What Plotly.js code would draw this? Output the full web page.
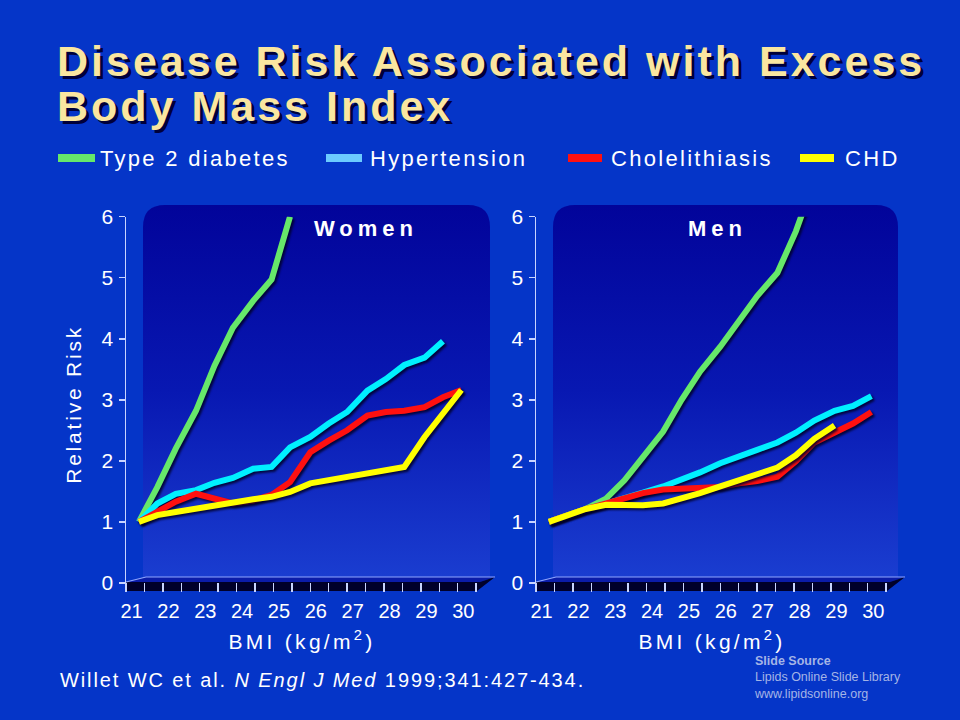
<!DOCTYPE html>
<html>
<head>
<meta charset="utf-8">
<script src="https://cdn.plot.ly/plotly-3.0.1.min.js"></script>
<style>
  html, body { margin: 0; padding: 0; background: #0535C8; }
  #chart { width: 960px; height: 720px; }
  .scatterlayer .js-line { filter: drop-shadow(2px 2px 1px rgba(0,0,40,0.85)); }
</style>
</head>
<body>
<div id="chart"></div>
<script>
// ---------------- DATA ----------------
const bmi = [21.2, 21.7, 22.2, 22.75, 23.25, 23.75, 24.3, 24.8, 25.3, 25.85, 26.35, 26.85, 27.4, 27.9, 28.4, 28.95, 29.45, 29.95];
const bmiTicks = [21, 22, 23, 24, 25, 26, 27, 28, 29, 30];
const riskTicks = [0, 1, 2, 3, 4, 5, 6];
const seriesNames = ['Type 2 diabetes', 'Hypertension', 'Cholelithiasis', 'CHD'];

// Women
const diabetesW = [1.0, 1.57, 2.20, 2.82, 3.56, 4.18, 4.62, 4.97, 6.0];
const hypertensionW = [1.0, 1.30, 1.46, 1.52, 1.64, 1.72, 1.87, 1.90, 2.22, 2.39, 2.61, 2.80, 3.15, 3.34, 3.57, 3.69, 3.96];
const cholelithiasisW = [1.0, 1.16, 1.33, 1.46, 1.38, 1.30, 1.35, 1.44, 1.65, 2.14, 2.33, 2.50, 2.74, 2.80, 2.82, 2.88, 3.04, 3.16];
const chdW = [1.0, 1.11, 1.16, 1.22, 1.27, 1.31, 1.37, 1.41, 1.49, 1.63, 1.68, 1.75, 1.79, 1.84, 1.90, 2.39, 2.77, 3.16];

// Men
const diabetesM = [1.0, 1.11, 1.21, 1.38, 1.68, 2.06, 2.48, 3.00, 3.46, 3.87, 4.28, 4.70, 5.08, 5.76, 6.6];
const hypertensionM = [1.0, 1.11, 1.21, 1.30, 1.40, 1.48, 1.58, 1.69, 1.81, 1.96, 2.08, 2.18, 2.30, 2.46, 2.66, 2.82, 2.90, 3.06];
const cholelithiasisM = [1.0, 1.11, 1.21, 1.30, 1.39, 1.47, 1.53, 1.54, 1.55, 1.57, 1.63, 1.67, 1.74, 1.99, 2.30, 2.47, 2.61, 2.80];
const chdM = [1.0, 1.11, 1.21, 1.28, 1.27, 1.27, 1.30, 1.38, 1.47, 1.58, 1.68, 1.79, 1.89, 2.09, 2.36, 2.58];

// ---------------- STYLE ----------------
const W = 960, H = 720;
const FONT = 'Liberation Sans, Arial, Helvetica, sans-serif';
const lineColors = ['#66E86A', '#00F0FF', '#FF1010', '#FFFF00'];
const legendColors = ['#66E86A', '#6CCBFF', '#FF1010', '#FFFF00'];
const BG = '#0535C8';
const px = x => x / W;
const py = y => 1 - y / H;
const sp = (t, s) => '<span style="letter-spacing:' + s + 'px">' + t + '</span>';

function mkTrace(y, color, xa, ya) {
  return {
    x: bmi.slice(0, y.length), y: y, type: 'scatter', mode: 'lines',
    xaxis: xa, yaxis: ya, showlegend: false, hoverinfo: 'skip',
    line: { color: color, width: 6, shape: 'linear' }
  };
}

const data = [
  mkTrace(diabetesW, lineColors[0], 'x', 'y'),
  mkTrace(hypertensionW, lineColors[1], 'x', 'y'),
  mkTrace(cholelithiasisW, lineColors[2], 'x', 'y'),
  mkTrace(chdW, lineColors[3], 'x', 'y'),
  mkTrace(diabetesM, lineColors[0], 'x2', 'y2'),
  mkTrace(hypertensionM, lineColors[1], 'x2', 'y2'),
  mkTrace(cholelithiasisM, lineColors[2], 'x2', 'y2'),
  mkTrace(chdM, lineColors[3], 'x2', 'y2')
];

const axisLine = '#C8D4FF';
function xAxis(domain, anchor) {
  return {
    domain: domain, anchor: anchor, range: [20.85, 30.4],
    tickmode: 'array', tickvals: bmiTicks, ticktext: bmiTicks.map(String),
    ticks: '', showgrid: false, zeroline: false, showline: false,
    tickfont: { family: FONT, size: 20, color: '#FFFFFF' },
    ticklabelstandoff: 5,
    minor: { tick0: 20.85, dtick: 0.5, ticks: 'inside', ticklen: 9, tickwidth: 1.5, tickcolor: axisLine, showgrid: false },
    title: { text: sp('BMI (kg/m<sup>2</sup>)', 3.3), font: { family: FONT, size: 21, color: '#FFFFFF' }, standoff: 13 },
    fixedrange: true
  };
}
function yAxis(anchor, withTitle) {
  const a = {
    domain: [py(592), py(216.7)], anchor: anchor, range: [-0.15, 6],
    tickmode: 'array', tickvals: riskTicks, ticktext: riskTicks.map(String),
    ticks: 'outside', ticklen: 6, tickwidth: 1.5, tickcolor: axisLine,
    showline: true, linecolor: axisLine, linewidth: 1.5,
    showgrid: false, zeroline: false,
    tickfont: { family: FONT, size: 21, color: '#FFFFFF' },
    ticklabelstandoff: 1,
    fixedrange: true
  };
  if (withTitle) a.title = { text: sp('Relative Risk', 2.8), font: { family: FONT, size: 21, color: '#FFFFFF' }, standoff: 14 };
  return a;
}

function panelImage(x0, y0, x1, y1) {
  const w = x1 - x0, h = y1 - y0, r = 22;
  const svg = '<svg xmlns="http://www.w3.org/2000/svg" width="' + w + '" height="' + h + '" viewBox="0 0 ' + w + ' ' + h + '">' +
    '<defs><linearGradient id="g" x1="0" y1="0" x2="0" y2="1">' +
    '<stop offset="0" stop-color="#02049A"/><stop offset="0.5" stop-color="#0818B2"/><stop offset="1" stop-color="#1A3DD0"/>' +
    '</linearGradient></defs>' +
    '<path d="M0,' + h + ' L0,' + r + ' Q0,0 ' + r + ',0 L' + (w - r) + ',0 Q' + w + ',0 ' + w + ',' + r + ' L' + w + ',' + h + ' Z" fill="url(#g)"/></svg>';
  return {
    source: 'data:image/svg+xml;charset=utf-8,' + encodeURIComponent(svg),
    xref: 'paper', yref: 'paper', x: px(x0), y: py(y0), sizex: w / W, sizey: h / H,
    xanchor: 'left', yanchor: 'top', sizing: 'stretch', layer: 'below'
  };
}

function pathOf(pts, close) {
  return pts.map((p, i) => (i ? 'L' : 'M') + px(p[0]).toFixed(5) + ',' + py(p[1]).toFixed(5)).join(' ') + (close ? ' Z' : '');
}
function floorShapes(x0, x1) {
  return [
    { type: 'path', xref: 'paper', yref: 'paper', layer: 'below', line: { width: 0 }, fillcolor: '#0B1CA8',
      path: pathOf([[x0, 582], [x0 + 20, 577], [x1 + 17, 577], [x1 + 2, 582]], true) },
    { type: 'path', xref: 'paper', yref: 'paper', layer: 'below', line: { width: 0 }, fillcolor: '#00002A',
      path: pathOf([[x0, 582], [x1 + 2, 582], [x1 + 17, 577], [x1 - 1, 591], [x0, 591]], true) },
    { type: 'path', xref: 'paper', yref: 'paper', layer: 'below', line: { width: 1.2, color: '#8FA6FF' },
      path: pathOf([[x0, 582], [x0 + 20, 577], [x1 + 17, 577]], false) }
  ];
}

// legend (manual)
const legendX = [[58, 95, 98], [326, 362, 368], [568, 602, 609], [800, 834, 843]];
const shapes = [].concat(floorShapes(126, 478), floorShapes(536, 888));
const annotations = [];
seriesNames.forEach((n, i) => {
  const L = legendX[i];
  shapes.push({ type: 'rect', xref: 'paper', yref: 'paper', x0: px(L[0]), x1: px(L[1]), y0: py(162), y1: py(154),
    fillcolor: legendColors[i], line: { width: 0 } });
  annotations.push({ xref: 'paper', yref: 'paper', x: px(L[2]), y: py(158), xanchor: 'left', yanchor: 'middle',
    showarrow: false, text: sp(n, 2.3), font: { family: FONT, size: 22, color: '#FFFFFF' } });
});

const titleFont = { family: FONT, size: 43, color: '#FAE6A0', weight: 'bold', shadow: '3px 3px 0px #00003A' };
annotations.push(
  { xref: 'paper', yref: 'paper', x: px(55), y: py(61), xanchor: 'left', yanchor: 'middle', showarrow: false,
    text: sp('Disease Risk Associated with Excess', 3.0), font: titleFont },
  { xref: 'paper', yref: 'paper', x: px(55), y: py(106), xanchor: 'left', yanchor: 'middle', showarrow: false,
    text: sp('Body Mass Index', 3.0), font: titleFont },
  { xref: 'paper', yref: 'paper', x: px(366), y: py(228), xanchor: 'center', yanchor: 'middle', showarrow: false,
    text: sp('Women', 5), font: { family: FONT, size: 22, color: '#FFFFFF', weight: 'bold' } },
  { xref: 'paper', yref: 'paper', x: px(717), y: py(228), xanchor: 'center', yanchor: 'middle', showarrow: false,
    text: sp('Men', 5), font: { family: FONT, size: 22, color: '#FFFFFF', weight: 'bold' } },
  { xref: 'paper', yref: 'paper', x: px(58), y: py(680), xanchor: 'left', yanchor: 'middle', showarrow: false,
    text: sp('Willet WC et al. <i>N Engl J Med</i> 1999;341:427-434.', 1.9), font: { family: FONT, size: 20, color: '#FFFFFF' } },
  { xref: 'paper', yref: 'paper', x: px(752), y: py(652), xanchor: 'left', yanchor: 'top', showarrow: false, align: 'left',
    text: '<b>Slide Source</b><br>Lipids Online Slide Library<br>www.lipidsonline.org',
    font: { family: FONT, size: 12.5, color: '#A4B4E6' } }
);

const layout = {
  width: W, height: H, margin: { l: 0, r: 0, t: 0, b: 0 },
  paper_bgcolor: BG, plot_bgcolor: 'rgba(0,0,0,0)', showlegend: false,
  xaxis: xAxis([px(126), px(478)], 'y'),
  yaxis: yAxis('x', true),
  xaxis2: xAxis([px(536), px(888)], 'y2'),
  yaxis2: yAxis('x2', false),
  images: [panelImage(143, 205, 490, 577), panelImage(553, 205, 898, 577)],
  shapes: shapes,
  annotations: annotations
};

Plotly.newPlot('chart', data, layout, { staticPlot: true, displayModeBar: false });
</script>
</body>
</html>
